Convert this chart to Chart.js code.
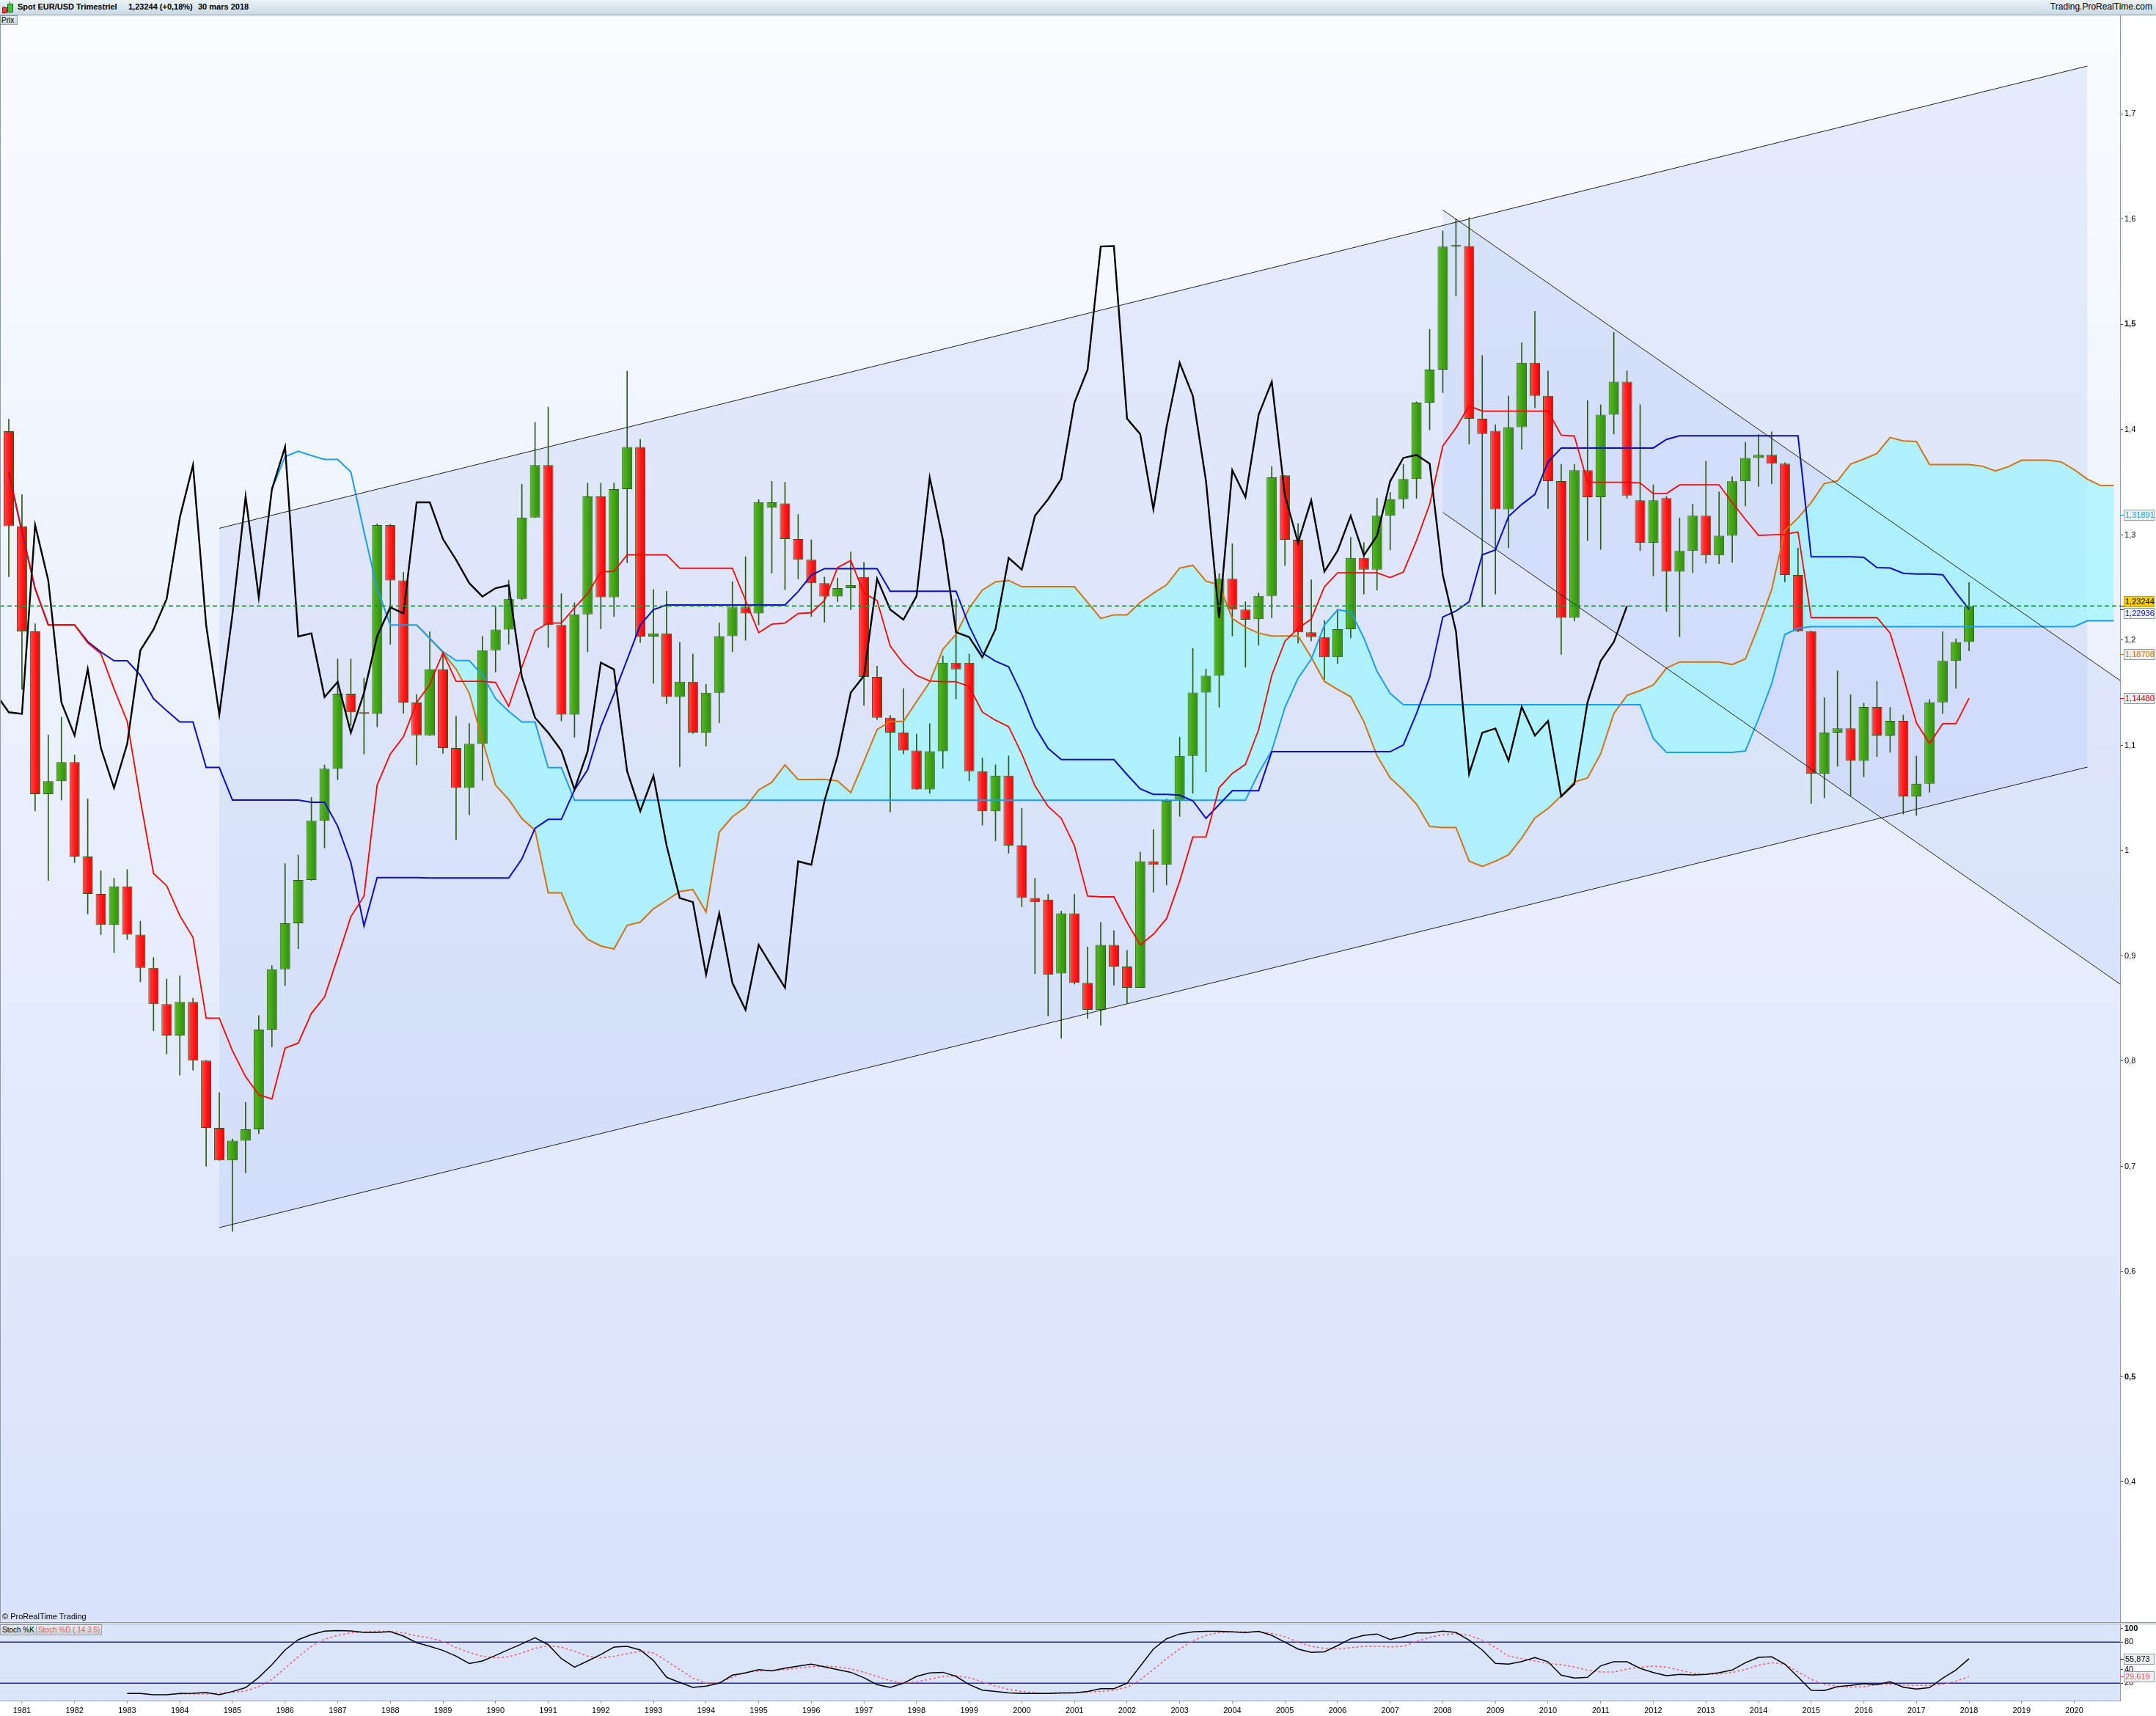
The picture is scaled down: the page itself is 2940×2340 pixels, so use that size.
<!DOCTYPE html>
<html>
<head>
<meta charset="utf-8">
<title>Spot EUR/USD Trimestriel</title>
<script src="https://cdn.jsdelivr.net/npm/chart.js@4.4.1/dist/chart.umd.min.js"></script>
<style>
  html, body { margin: 0; padding: 0; background: #fff; }
  body { width: 2940px; height: 2340px; position: relative; overflow: hidden; font-family: "Liberation Sans", Arial, sans-serif; }
  .abs { position: absolute; }
  #header { left: 0; top: 0; width: 2940px; height: 20px; background: linear-gradient(#ecf3f7, #c8dbe5); border-bottom: 1px solid #8e9aa5; }
  #header span { position: absolute; top: 3px; font-size: 11px; font-weight: bold; color: #000; white-space: nowrap; }
  #header span.site { font-weight: normal; font-size: 12px; top: 2px; left: auto; right: 5px; }
  #prix { left: 0; top: 21px; width: 21px; height: 11px; background: linear-gradient(#e4eaee, #c9d3d9); border: 1px solid #9aa6ae; font-size: 10px; line-height: 11px; padding-left: 1px; }
  #main { left: 0; top: 21px; }
  #stoch { left: 0; top: 2215px; }
  .hline { left: 0; width: 2940px; height: 1px; background: #8e9aa5; }
  #copy { left: 3px; top: 2198px; font-size: 11px; color: #000; }
  #legend { left: 0; top: 2215px; height: 13px; border: 1px solid #9aa6ae; background: linear-gradient(#e6ecef, #c9d3d8); font-size: 10px; line-height: 13px; white-space: nowrap; }
  #legend span { padding: 0 2px; }
</style>
</head>
<body>
<div id="header" class="abs">
  <div class="abs" style="left:5px;top:8px;width:1px;height:11px;background:#7a1a1a"></div>
  <div class="abs" style="left:3px;top:10px;width:5px;height:6px;background:#e84040;border:1px solid #8a2020"></div>
  <div class="abs" style="left:13px;top:2px;width:1px;height:16px;background:#1a6a1a"></div>
  <div class="abs" style="left:10px;top:5px;width:6px;height:10px;background:#3ec43e;border:1px solid #1a6a1a"></div>
  <span style="left:24px">Spot EUR/USD</span>
  <span style="left:104px">Trimestriel</span>
  <span style="left:175px">1,23244 (+0,18%)</span>
  <span style="left:270px">30 mars 2018</span>
  <span class="site">Trading.ProRealTime.com</span>
</div>
<canvas id="main" class="abs" width="2940" height="2191"></canvas>
<div id="prix" class="abs">Prix</div>
<div class="abs" style="left:0;top:21px;width:1px;height:2191px;background:#8e9aa5"></div>
<div id="copy" class="abs">© ProRealTime Trading</div>
<div class="hline abs" style="top:2212px"></div>
<div class="hline abs" style="top:2214px"></div>
<canvas id="stoch" class="abs" width="2940" height="125"></canvas>
<div id="legend" class="abs"><span style="color:#000;border-right:1px solid #9aa6ae">Stoch %K</span><span style="color:#f05a5a">Stoch %D ( 14 3 5)</span></div>

<script>
// quarter index 0 = 1980 Q4 ... 149 = 2018 Q1
const yearLabels = [1981,1982,1983,1984,1985,1986,1987,1988,1989,1990,1991,1992,1993,1994,1995,1996,1997,1998,1999,2000,
  2001,2002,2003,2004,2005,2006,2007,2008,2009,2010,2011,2012,2013,2014,2015,2016,2017,2018,2019,2020];
const priceTicks = [0.4,0.5,0.6,0.7,0.8,0.9,1,1.1,1.2,1.3,1.4,1.5,1.6,1.7];
const stochTicks = [20,40,80,100];

const openP = [1.3986,1.3084,1.2084,1.0537,1.0661,1.0841,0.9944,0.9588,0.9294,0.9661,
  0.9202,0.8887,0.8542,0.8243,0.8562,0.8006,0.7366,0.7057,0.7243,0.7351,
  0.8299,0.8872,0.931,0.9722,1.0284,1.0779,1.1491,1.1315,1.13,1.3094,
  1.2568,1.1408,1.1095,1.1725,1.0975,1.0595,1.1015,1.1904,1.2101,1.2392,
  1.3165,1.3664,1.2144,1.1292,1.2246,1.3365,1.2407,1.3435,1.3836,1.2035,
  1.2065,1.1459,1.1605,1.112,1.1499,1.2039,1.2312,1.2254,1.326,1.33,
  1.2961,1.2764,1.2542,1.2415,1.2494,1.26,1.1651,1.1263,1.1121,1.0951,
  1.0581,1.0944,1.1786,1.1786,1.0755,1.0375,1.0712,1.0048,0.955,0.9534,
  0.8832,0.9404,0.8743,0.8487,0.9105,0.8899,0.8697,0.9898,0.9866,1.0474,
  1.0901,1.1502,1.1662,1.2583,1.2291,1.2201,1.2419,1.3566,1.2954,1.2075,
  1.2029,1.1838,1.2105,1.2782,1.2671,1.3183,1.334,1.3531,1.4257,1.4571,
  1.5741,1.5745,1.4105,1.399,1.3244,1.4024,1.4636,1.4322,1.3512,1.2212,
  1.3615,1.3359,1.4143,1.4456,1.3329,1.2927,1.335,1.2652,1.2849,1.3182,
  1.2806,1.2993,1.351,1.3732,1.3761,1.3678,1.262,1.2086,1.0729,1.1121,
  1.1161,1.0854,1.1366,1.1094,1.1233,1.0515,1.0635,1.1409,1.1803,1.1982];
const highP = [1.41,1.3383,1.2156,1.1099,1.1269,1.0908,1.0491,0.981,0.9738,0.9821,
  0.933,0.8985,0.8779,0.881,0.8598,0.8006,0.7701,0.726,0.7609,0.8434,
  0.8908,0.9877,0.9959,1.0506,1.0815,1.1821,1.1821,1.164,1.3105,1.31,
  1.2645,1.1485,1.2079,1.1889,1.1277,1.1208,1.2035,1.2316,1.2571,1.3482,
  1.4069,1.4215,1.2443,1.2356,1.3493,1.3493,1.3493,1.4557,1.3908,1.248,
  1.2465,1.198,1.1868,1.158,1.2163,1.2556,1.2793,1.3336,1.3511,1.35,
  1.3194,1.2954,1.26,1.259,1.2839,1.2739,1.1754,1.1285,1.1541,1.1107,
  1.1207,1.185,1.2387,1.1868,1.088,1.0816,1.0901,1.0403,0.9738,0.9585,
  0.9426,0.9585,0.9084,0.9319,0.924,0.9052,0.9987,1.02,1.0492,1.1079,
  1.1921,1.1726,1.2632,1.2917,1.2366,1.2449,1.365,1.3566,1.3107,1.2575,
  1.2189,1.2296,1.2977,1.2927,1.3348,1.3405,1.3672,1.4265,1.4953,1.589,
  1.6004,1.6016,1.4705,1.4047,1.4322,1.4827,1.5125,1.4559,1.3672,1.3672,
  1.4277,1.4238,1.4926,1.4559,1.4238,1.3476,1.3366,1.3161,1.3294,1.37,
  1.3409,1.3553,1.3881,1.3956,1.398,1.3686,1.2876,1.2086,1.1454,1.1708,
  1.1481,1.1401,1.1609,1.1361,1.1289,1.0899,1.1435,1.2081,1.2014,1.2548];
const lowP = [1.2604,1.1532,1.0377,0.9717,1.048,0.9887,0.9398,0.9202,0.9031,0.9155,
  0.8753,0.8289,0.8068,0.7866,0.7913,0.70,0.7057,0.6382,0.6938,0.731,
  0.8135,0.8717,0.9068,0.9717,1.0027,1.0676,1.1187,1.0918,1.1176,1.196,
  1.1305,1.0815,1.1095,1.0923,1.0103,1.034,1.0668,1.1696,1.1962,1.2382,
  1.3165,1.1933,1.1233,1.1077,1.1889,1.2108,1.2225,1.2735,1.1977,1.159,
  1.1397,1.0796,1.1113,1.0993,1.1215,1.1889,1.1999,1.2144,1.2637,1.248,
  1.2582,1.2225,1.217,1.2366,1.2287,1.1381,1.1246,1.0368,1.0919,1.0581,
  1.0545,1.0783,1.1441,1.0663,1.0243,1.0094,0.9976,0.9468,0.8832,0.843,
  0.8217,0.8732,0.8405,0.8341,0.8721,0.8551,0.8703,0.9603,0.9674,1.0325,
  1.0545,1.0748,1.1363,1.2039,1.1743,1.1952,1.2212,1.2709,1.1972,1.1991,
  1.1628,1.178,1.2021,1.2438,1.2476,1.2858,1.3252,1.3348,1.3998,1.4353,
  1.527,1.3864,1.2316,1.2438,1.2878,1.3814,1.4208,1.3252,1.1865,1.2182,
  1.2946,1.2862,1.3959,1.3348,1.2851,1.2609,1.2273,1.2033,1.2641,1.2731,
  1.2726,1.274,1.3276,1.346,1.3486,1.2553,1.208,1.0449,1.0502,1.0801,
  1.0521,1.0702,1.0894,1.0934,1.0347,1.0334,1.0555,1.1302,1.1542,1.1899];
const closeP = [1.3084,1.2084,1.0537,1.0661,1.0841,0.9944,0.9588,0.9294,0.9661,0.9202,
  0.8887,0.8542,0.8243,0.8562,0.8006,0.7366,0.7057,0.7243,0.7351,0.8299,
  0.8872,0.931,0.9722,1.0284,1.0779,1.1491,1.1315,1.13,1.3094,1.2568,
  1.1408,1.1095,1.1725,1.0975,1.0595,1.1015,1.1904,1.2101,1.2392,1.3165,
  1.3664,1.2144,1.1292,1.2246,1.3365,1.2407,1.3435,1.3836,1.2035,1.2065,
  1.1459,1.1605,1.112,1.1499,1.2039,1.2312,1.2254,1.3311,1.331,1.2961,
  1.2764,1.2542,1.2415,1.2494,1.2522,1.1651,1.1263,1.1121,1.0951,1.0581,
  1.0944,1.1786,1.1722,1.0755,1.0375,1.0712,1.0048,0.955,0.9511,0.8821,
  0.9404,0.8743,0.8487,0.9105,0.8899,0.8697,0.9898,0.9866,1.0474,1.0901,
  1.1502,1.1662,1.2583,1.2291,1.2195,1.2419,1.3546,1.2954,1.2075,1.2029,
  1.1838,1.2105,1.2782,1.2671,1.3183,1.334,1.3531,1.4257,1.4571,1.5741,
  1.5745,1.4105,1.3959,1.3244,1.4024,1.4636,1.4322,1.3512,1.2212,1.3615,
  1.3359,1.4143,1.4456,1.3374,1.2927,1.3329,1.2652,1.2849,1.3182,1.2806,
  1.2993,1.351,1.3732,1.3761,1.3678,1.262,1.2086,1.0729,1.1121,1.1161,
  1.0854,1.1366,1.1094,1.1233,1.0515,1.0635,1.1409,1.1803,1.1982,1.23244];

// Ichimoku lines
const tenkan = [1.359,1.303,1.249,1.2145,1.2145,1.2145,1.1975,1.1872,1.1537,1.1228,
  1.048,0.9784,0.9666,0.9382,0.9176,0.8408,0.8408,0.8098,0.7851,0.7681,
  0.764,0.8124,0.8171,0.8454,0.8609,0.8985,0.9372,0.9568,1.0625,1.0918,
  1.1083,1.1408,1.158,1.1882,1.1609,1.1609,1.1609,1.1598,1.1372,1.1744,
  1.209,1.2163,1.2163,1.2308,1.2443,1.2647,1.2655,1.2811,1.2811,1.2811,
  1.2811,1.2684,1.2684,1.2684,1.2684,1.2684,1.2378,1.2072,1.2152,1.2163,
  1.2254,1.2261,1.2376,1.269,1.2757,1.2447,1.2376,1.1943,1.1779,1.1665,
  1.1612,1.1605,1.1605,1.1559,1.1317,1.1239,1.1178,1.0919,1.0616,1.042,
  1.0307,1.0047,0.9568,0.9561,0.9561,0.9319,0.9105,0.9205,0.9354,0.971,
  1.0129,1.0129,1.0599,1.0734,1.082,1.115,1.1666,1.199,1.2113,1.2201,
  1.2507,1.264,1.264,1.264,1.264,1.2595,1.2648,1.2946,1.329,1.3845,
  1.4017,1.4227,1.4177,1.4177,1.4177,1.4177,1.4177,1.4177,1.3948,1.394,
  1.35,1.35,1.35,1.35,1.3494,1.3393,1.3393,1.3476,1.3476,1.3476,
  1.3476,1.3308,1.3148,1.2996,1.3001,1.3006,1.3028,1.2214,1.2214,1.2214,
  1.2214,1.2214,1.2214,1.2068,1.1654,1.1214,1.1019,1.1206,1.1206,1.1448];
const kijun = [1.359,1.303,1.249,1.2145,1.2145,1.2145,1.1986,1.1888,1.1805,1.1805,
  1.1666,1.1444,1.133,1.1223,1.1223,1.079,1.079,1.048,1.048,1.048,
  1.048,1.048,1.048,1.046,1.046,1.0233,0.9887,0.9284,0.9743,0.9743,
  0.9743,0.9743,0.974,0.974,0.974,0.974,0.974,0.974,0.974,0.9921,
  1.0213,1.0297,1.0297,1.0577,1.077,1.1179,1.1488,1.1816,1.2144,1.229,
  1.2334,1.2334,1.2334,1.2334,1.2334,1.2334,1.2334,1.2334,1.2334,1.2334,
  1.2462,1.2618,1.268,1.268,1.268,1.268,1.268,1.2465,1.2465,1.2465,
  1.2465,1.2465,1.2465,1.2135,1.1879,1.18,1.1747,1.1487,1.1175,1.0972,
  1.0865,1.0865,1.0865,1.0865,1.0865,1.0723,1.0588,1.0535,1.0535,1.0527,
  1.0474,1.0307,1.0439,1.057,1.057,1.057,1.094,1.094,1.094,1.094,
  1.094,1.094,1.094,1.094,1.094,1.094,1.1004,1.1303,1.1647,1.222,
  1.2277,1.2365,1.2812,1.2858,1.3176,1.329,1.3386,1.3692,1.3826,1.3826,
  1.3826,1.3826,1.3826,1.3826,1.3826,1.3826,1.3908,1.3942,1.3942,1.3942,
  1.3942,1.3942,1.3942,1.3942,1.3942,1.3942,1.3942,1.2793,1.2793,1.2793,
  1.2793,1.2788,1.2689,1.2686,1.2636,1.2628,1.2628,1.2622,1.2454,1.2294];
// cloud edges, projected forward: blue from index 20, orange from index 31, both to 160
const cloudBlueStart = 20;
const cloudBlue = [1.3434,1.3744,1.3795,1.3754,1.3718,1.3718,1.3599,1.303,1.249,1.2145,
  1.2145,1.2145,1.2017,1.189,1.1806,1.1806,1.167,1.1445,1.1324,1.1222,
  1.1222,1.0789,1.0789,1.0479,1.0479,1.0479,1.0479,1.0479,1.0479,1.0479,
  1.0479,1.0479,1.0479,1.0479,1.0479,1.0479,1.0479,1.0479,1.0479,1.0479,
  1.0479,1.0479,1.0479,1.0479,1.0479,1.0479,1.0479,1.0479,1.0479,1.0479,
  1.0479,1.0479,1.0479,1.0479,1.0479,1.0479,1.0479,1.0479,1.0479,1.0479,
  1.0479,1.0479,1.0479,1.0479,1.0479,1.0479,1.0479,1.0479,1.0479,1.0479,
  1.0479,1.0479,1.0479,1.0479,1.0479,1.0737,1.0951,1.136,1.1639,1.1819,
  1.2144,1.2289,1.227,1.2021,1.1704,1.1494,1.1387,1.1387,1.1387,1.1387,
  1.1387,1.1387,1.1387,1.1387,1.1387,1.1387,1.1387,1.1387,1.1387,1.1387,
  1.1387,1.1387,1.1387,1.1387,1.1387,1.1067,1.0934,1.0934,1.0934,1.0934,
  1.0934,1.0934,1.0947,1.1254,1.1587,1.2054,1.2113,1.2129,1.2129,1.2129,
  1.2129,1.2129,1.2129,1.2129,1.2129,1.2129,1.2129,1.2129,1.2129,1.2129,
  1.2129,1.2129,1.2129,1.2129,1.2129,1.2129,1.2129,1.2129,1.2184,1.2184,1.2184];
const cloudOrangeStart = 31;
const cloudOrange = [1.2145,1.2017,1.1882,1.1725,1.1496,1.1051,1.0621,1.0486,1.0304,
  1.0194,0.96,0.96,0.9302,0.9157,0.9094,0.9066,0.929,0.932,0.9447,
  0.9528,0.9611,0.963,0.9418,1.0176,1.0322,1.0413,1.0577,1.065,1.0814,
  1.0676,1.0676,1.0677,1.0663,1.0552,1.0848,1.115,1.1228,1.1228,1.1416,
  1.1601,1.1914,1.2056,1.2305,1.2476,1.2554,1.2568,1.2508,1.2508,1.2508,
  1.2508,1.2508,1.2359,1.2206,1.2241,1.2241,1.2359,1.2447,1.2526,1.2686,
  1.2711,1.2561,1.2526,1.2206,1.2124,1.2067,1.204,1.204,1.204,1.1838,
  1.1608,1.1532,1.1463,1.1226,1.0901,1.0691,1.0576,1.0442,1.023,1.022,
  1.022,0.99,0.985,0.99,0.996,1.012,1.031,1.04,1.052,1.0653,
  1.069,1.092,1.1303,1.1475,1.1521,1.1574,1.1734,1.1793,1.1793,1.1793,
  1.1793,1.1769,1.1822,1.2134,1.2481,1.3041,1.3161,1.3308,1.3489,1.3513,
  1.3673,1.3721,1.3774,1.3926,1.3894,1.3889,1.3668,1.3668,1.3668,1.3668,
  1.3654,1.3609,1.3649,1.371,1.371,1.371,1.3694,1.362,1.353,1.347,1.347];
const chikouShift = 26;

// drawn trend channels [quarter index, price]
const upChannelTop = [[16, 1.3063], [158, 1.7456]];
const upChannelBottom = [[16, 0.6418], [158, 1.0794]];
const downChannelTop = [[109, 1.6088], [160.48, 1.1617]];
const downChannelBottom = [[109, 1.3214], [160.48, 0.8732]];
const lastPrice = 1.23244;

// stochastic (14 3 5)
const stochKStart = 9;
const stochK = [5,5,3.2,3.2,5,5.4,6.4,3.2,7.9,13.6,28.6,47.1,68.6,83.6,91.1,96.1,97.1,96.4,94.3,94.3,
  95.4,88.9,79.3,73.9,67.9,59.6,48.9,52.5,60.7,69.3,77.5,86.4,76.4,56.1,43.6,52.5,62.1,72.8,73.9,68.6,
  53.2,28.6,21.1,13.9,15.7,20,31.8,
  35,40,38,42,45,48,44,40,36,28, 18,14,20,30,35,36,30,18,10,8,
  6,5,5,5,6,6,8,12,12,20, 45,70,85,92,95,96,96,95,94,96,
  90,80,70,65,66,75,85,90,92,84,
  88.2,93.6,93.6,96.1,94.3,82.9,68.6,48.9,47.9,51.8,57.5,51.4,31.8,27.5,28.6,45.4,51.4,51.4,41.8,35.7,
  31.1,32.9,32.1,32.9,35.4,39.3,50,57.9,58.6,47.9,29.3,9.6,9.3,15,16.8,19.3,17.9,22.1,14.3,11.4,
  13.6,27.5,39.3,55.9];
const stochDStart = 13;
const stochD = [4.3,4.3,4.3,5.7,6.8,8.6,15,25.7,41.8,58.9,73.9,84.3,90,93.6,95,96.1,95.7,93.6,89.3,86.4,
  81.1,72.1,65,59.3,57.1,58.6,64.3,71.1,75,72.8,66.8,59.6,57.1,59.3,63.2,66.8,64.3,52.5,40,27.5,
  20.4,21.1,28.6,
  36,38,39,40,42,44,45,44,41,36, 30,24,20,22,26,30,31,28,22,16,
  11,8,6,5,5,6,7,8,10,14, 25,40,56,70,82,90,94,95,95,95,
  93,88,80,74,71,70,72,74,74,73,
  74,81,87,91,92.5,90,82.9,72.1,59.6,56.1,52.5,48.9,47.1,43.6,39.3,36.4,36.4,40.7,43.6,45,
  43.6,39.3,34.6,32.9,33.6,35.7,40,46.4,50,47.9,36.4,25.7,18.6,15.7,14.3,15,17.9,18.6,17.5,16.8,
  16.8,18.6,22.9,29.6];
const stochLevels = [80, 20];

const X_MIN = -0.669, X_MAX = 160.48;
const FONT = '"Liberation Sans", Arial, sans-serif';
Chart.defaults.font.family = FONT;

const pts = (arr, start) => arr.map((v, k) => ({x: start + k, y: v}));
const seg = p => p.map(([x, y]) => ({x, y}));
const fmt = v => String(Math.round(v * 10) / 10).replace('.', ',');
const tickVal = c => (c && c.tick) ? c.tick.value : NaN;

const wicks = lowP.map((l, i) => ({x: i, y: [l, highP[i]]}));
const bodies = openP.map((o, i) => ({x: i, y: [o, closeP[i]]}));
const chikou = closeP.map((c, i) => ({x: i - chikouShift, y: c})).filter(p => p.x >= -1);
const cloudBlueUnder = pts(cloudBlue, cloudBlueStart).filter(p => p.x >= cloudOrangeStart);

// candle body shading, light on the left, deep on the right
function bodyFill(c) {
  const i = c ? c.dataIndex : undefined;
  const up = (i !== undefined) ? closeP[i] >= openP[i] : true;
  const flat = up ? '#3fa316' : '#ff2323';
  if (!c || c.type !== 'data' || !c.parsed || !c.chart.scales || !c.chart.scales.x) return flat;
  const px = c.chart.scales.x.getPixelForValue(c.parsed.x);
  if (!isFinite(px)) return flat;
  const g = c.chart.ctx.createLinearGradient(px - 7, 0, px + 7, 0);
  if (up) {
    g.addColorStop(0, '#55bb22');
    g.addColorStop(1, '#2f8c0c');
  } else {
    g.addColorStop(0, '#ff5050');
    g.addColorStop(0.5, '#ff1c1c');
    g.addColorStop(1, '#f00000');
  }
  return g;
}

function bgPlugin(top, bottom) {
  return {
    id: 'bg',
    beforeDraw(chart) {
      const {ctx, chartArea: a} = chart;
      const g = ctx.createLinearGradient(0, a.top, 0, a.bottom);
      g.addColorStop(0, top);
      g.addColorStop(1, bottom);
      ctx.save();
      ctx.fillStyle = g;
      ctx.fillRect(a.left, a.top, a.width, a.height);
      ctx.restore();
    }
  };
}

function badgePlugin(badges) {
  return {
    id: 'badges',
    afterDraw(chart) {
      const {ctx} = chart;
      const ys = chart.scales.y;
      const x0 = ys.left;
      ctx.save();
      ctx.font = '11px ' + FONT;
      ctx.textBaseline = 'middle';
      badges.forEach(b => {
        const yv = Math.round(ys.getPixelForValue(b.value));
        const yc = yv + (b.dy || 0);
        ctx.strokeStyle = b.color;
        ctx.lineWidth = 1;
        ctx.beginPath();
        ctx.moveTo(x0, yv + 0.5);
        ctx.lineTo(x0 + 5, yv + 0.5);
        ctx.stroke();
        ctx.fillStyle = b.bg || '#eef2f5';
        ctx.fillRect(x0 + 5.5, yc - 6.5, 41, 14);
        ctx.strokeStyle = b.border || '#8e9aa5';
        ctx.strokeRect(x0 + 5.5, yc - 6.5, 41, 14);
        ctx.fillStyle = b.color;
        ctx.fillText(b.label, x0 + 7, yc + 1);
      });
      ctx.restore();
    }
  };
}

const lineDs = (data, color, width, order, extra) => Object.assign({
  type: 'line', data, borderColor: color, borderWidth: width, pointRadius: 0,
  fill: false, tension: 0, order
}, extra || {});

new Chart(document.getElementById('main'), {
  type: 'line',
  data: {
    datasets: [
      lineDs(seg(upChannelTop), 'transparent', 0, 100, {fill: 1, backgroundColor: 'rgba(175,195,245,0.26)'}),
      lineDs(seg(upChannelBottom), 'transparent', 0, 100),
      lineDs(seg(downChannelTop), 'transparent', 0, 99, {fill: 3, backgroundColor: 'rgba(175,195,245,0.24)'}),
      lineDs(seg(downChannelBottom), 'transparent', 0, 99),
      lineDs(pts(cloudOrange, cloudOrangeStart), 'transparent', 0, 98, {fill: 5, backgroundColor: 'rgba(160,245,255,0.72)'}),
      lineDs(cloudBlueUnder, 'transparent', 0, 98),
      {type: 'bar', data: wicks, backgroundColor: '#2b5a12', borderWidth: 0, barThickness: 1, grouped: false, order: 60},
      {type: 'bar', data: bodies, backgroundColor: bodyFill, borderColor: '#2b5a12', borderWidth: 1,
        borderSkipped: false, grouped: false, categoryPercentage: 1, barPercentage: 0.78, minBarLength: 2, order: 59},
      lineDs(pts(cloudOrange, cloudOrangeStart), '#d4720f', 2, 9),
      lineDs(pts(cloudBlue, cloudBlueStart), '#1a9ef0', 2, 8),
      lineDs(pts(kijun, 0), '#0a0ac8', 2, 7),
      lineDs(pts(tenkan, 0), '#ff0000', 1.8, 6),
      lineDs(chikou, '#000000', 2.4, 5),
      lineDs(seg(upChannelTop), '#222', 1, 4),
      lineDs(seg(upChannelBottom), '#222', 1, 4),
      lineDs(seg(downChannelTop), '#222', 1, 4),
      lineDs(seg(downChannelBottom), '#222', 1, 4),
      lineDs([{x: X_MIN, y: lastPrice}, {x: X_MAX, y: lastPrice}], '#119933', 1.6, 3, {borderDash: [6, 4]})
    ]
  },
  options: {
    animation: false, responsive: false, devicePixelRatio: 1, events: [],
    layout: {padding: 0},
    plugins: {legend: {display: false}, tooltip: {enabled: false}},
    scales: {
      x: {type: 'linear', min: X_MIN, max: X_MAX, display: false, offset: false},
      y: {
        type: 'linear', position: 'right', min: 0.2669, max: 1.7937,
        afterBuildTicks: s => { s.ticks = priceTicks.map(v => ({value: v})); },
        afterFit: s => { s.width = 49; s.paddingTop = 0; s.paddingBottom = 0; },
        grid: {drawOnChartArea: false, tickLength: 4, color: '#444'},
        border: {color: '#8e9aa5'},
        ticks: {
          padding: 2, color: '#000',
          font: c => {
            const v = tickVal(c);
            return {family: FONT, size: 11, weight: (Math.abs(v - 0.5) < 1e-6 || Math.abs(v - 1.5) < 1e-6) ? 'bold' : 'normal'};
          },
          callback: v => fmt(v)
        }
      }
    }
  },
  plugins: [bgPlugin('#fafcff', '#d8e2fb'), badgePlugin([
    {value: 1.31891, label: '1,31891', color: '#1a9ef0'},
    {value: 1.23244, label: '1,23244', color: '#000', bg: '#f6cc0a', border: '#b89a20', dy: -6},
    {value: 1.22936, label: '1,22936', color: '#1010c0', dy: 5},
    {value: 1.18708, label: '1,18708', color: '#d4720f'},
    {value: 1.14480, label: '1,14480', color: '#ff0000'}
  ])]
});

new Chart(document.getElementById('stoch'), {
  type: 'line',
  data: {
    datasets: [
      lineDs([{x: X_MIN, y: stochLevels[0]}, {x: X_MAX, y: stochLevels[0]}], '#2222cc', 1.5, 5),
      lineDs([{x: X_MIN, y: stochLevels[1]}, {x: X_MAX, y: stochLevels[1]}], '#2222cc', 1.5, 5),
      lineDs(pts(stochD, stochDStart), '#f06060', 1.5, 2, {borderDash: [3, 3]}),
      lineDs(pts(stochK, stochKStart), '#000000', 1.5, 1)
    ]
  },
  options: {
    animation: false, responsive: false, devicePixelRatio: 1, events: [],
    layout: {padding: 0},
    plugins: {legend: {display: false}, tooltip: {enabled: false}},
    scales: {
      x: {
        type: 'linear', min: X_MIN, max: X_MAX, offset: false,
        afterBuildTicks: s => { s.ticks = yearLabels.map((y, k) => ({value: 1 + 4 * k})); },
        afterFit: s => { s.height = 21; s.paddingLeft = 0; s.paddingRight = 0; },
        grid: {drawOnChartArea: false, tickLength: 4, color: '#8e9aa5'},
        border: {color: '#8e9aa5'},
        ticks: {padding: 3, color: '#000', maxRotation: 0, autoSkip: false, font: {size: 11},
          callback: (v, idx) => String(yearLabels[idx])}
      },
      y: {
        type: 'linear', position: 'right', min: -5.36, max: 106.1,
        afterBuildTicks: s => { s.ticks = stochTicks.map(v => ({value: v})); },
        afterFit: s => { s.width = 49; s.paddingTop = 0; s.paddingBottom = 0; },
        grid: {drawOnChartArea: false, tickLength: 4, color: '#444'},
        border: {color: '#8e9aa5'},
        ticks: {padding: 2, color: '#000',
          font: c => ({family: FONT, size: 11, weight: tickVal(c) === 100 ? 'bold' : 'normal'}),
          callback: v => String(v)}
      }
    }
  },
  plugins: [bgPlugin('#dae4fb', '#dae4fb'), badgePlugin([
    {value: 55.873, label: '55,873', color: '#000'},
    {value: 29.619, label: '29,619', color: '#f05050'}
  ])]
});
</script>
</body>
</html>
